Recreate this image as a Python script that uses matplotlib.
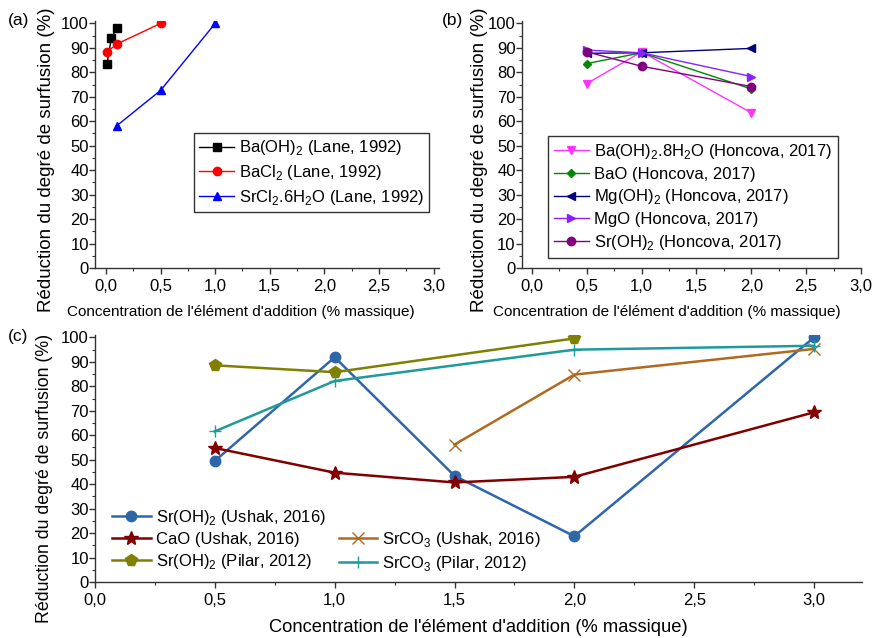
import matplotlib
matplotlib.use("Agg")
import matplotlib.pyplot as plt
from matplotlib.lines import Line2D
from matplotlib.ticker import MultipleLocator, FuncFormatter

plt.rcParams['font.family'] = ['Liberation Sans', 'DejaVu Sans']
plt.rcParams['mathtext.fontset'] = 'custom'
plt.rcParams['mathtext.rm'] = 'Liberation Sans'

# --- (a) Lane, 1992
a_baoh2_x = [0.01, 0.05, 0.1]
a_baoh2_y = [83.5, 94.0, 98.3]
a_bacl2_x = [0.01, 0.1, 0.5]
a_bacl2_y = [88.3, 91.6, 100.0]
a_srcl2_x = [0.1, 0.5, 1.0]
a_srcl2_y = [58.2, 72.6, 100.0]

# --- (b) Honcova, 2017
b_x = [0.5, 1.0, 2.0]
b_baoh2_8h2o = [75.4, 88.4, 63.5]
b_bao = [83.6, 88.0, 73.2]
b_mgoh2 = [87.8, 88.0, 89.8]
b_mgo = [89.1, 88.0, 78.3]
b_sroh2 = [88.4, 82.5, 74.2]

# --- (c) Ushak 2016 / Pilar 2012
c_sroh2_ushak_x = [0.5, 1.0, 1.5, 2.0, 3.0]
c_sroh2_ushak_y = [49.5, 91.9, 43.4, 18.7, 100.0]
c_cao_ushak_x = [0.5, 1.0, 1.5, 2.0, 3.0]
c_cao_ushak_y = [54.8, 44.7, 40.7, 43.0, 69.4]
c_srco3_ushak_x = [1.5, 2.0, 3.0]
c_srco3_ushak_y = [56.2, 84.8, 95.3]
c_sroh2_pilar_x = [0.5, 1.0, 2.0]
c_sroh2_pilar_y = [88.6, 85.8, 99.6]
c_srco3_pilar_x = [0.5, 1.0, 2.0, 3.0]
c_srco3_pilar_y = [61.6, 82.2, 95.0, 96.6]

ylabel = "Réduction du degré de surfusion (%)"
xlabel = "Concentration de l'élément d'addition (% massique)"

W, H = 883, 638
fig = plt.figure(figsize=(W / 100, H / 100), dpi=100)


def box(l, t, r, b):
    return [l / W, 1 - b / H, (r - l) / W, (b - t) / H]


comma = FuncFormatter(lambda v, p: ("%.1f" % v).replace(".", ","))


def style(ax, xmin, xmax, ylab_size, xlab_size, ylab_xy, xlab_xy):
    ax.set_xlim(xmin, xmax)
    ax.set_ylim(0, 101)
    for s in ("top", "right"):
        ax.spines[s].set_visible(False)
    for s in ("left", "bottom"):
        ax.spines[s].set_color("#333333")
        ax.spines[s].set_linewidth(1.0)
    ax.xaxis.set_major_locator(MultipleLocator(0.5))
    ax.xaxis.set_minor_locator(MultipleLocator(0.25))
    ax.yaxis.set_major_locator(MultipleLocator(10))
    ax.yaxis.set_minor_locator(MultipleLocator(5))
    ax.xaxis.set_major_formatter(comma)
    ax.tick_params(which="major", direction="out", length=4, width=1,
                   labelsize=12, colors="#333333", labelcolor="black")
    ax.tick_params(axis="x", which="major", pad=4)
    ax.tick_params(axis="y", which="major", pad=0.5)
    ax.tick_params(which="minor", direction="out", length=2, width=0.8,
                   colors="#333333")
    ax.set_ylabel(ylabel, fontsize=ylab_size)
    ax.set_xlabel(xlabel, fontsize=xlab_size)
    ax.yaxis.set_label_coords(*ylab_xy)
    ax.xaxis.set_label_coords(*xlab_xy)


leg_kw = dict(fontsize=12, handlelength=2.1, handletextpad=0.3,
              labelspacing=0.35)

# (a)
ax1 = fig.add_axes(box(95, 21, 439, 268))
style(ax1, -0.1, 3.05, 13.5, 11, (-0.116, 0.44), (0.424, -0.15))
ax1.plot(a_baoh2_x, a_baoh2_y, color="black", marker="s", ms=6, lw=1,
         label=r"Ba(OH)$_2$ (Lane, 1992)")
ax1.plot(a_bacl2_x, a_bacl2_y, color="red", marker="o", ms=6, lw=1,
         label=r"BaCl$_2$ (Lane, 1992)")
ax1.plot(a_srcl2_x, a_srcl2_y, color="blue", marker="^", ms=6, lw=1,
         label=r"SrCl$_2$.6H$_2$O (Lane, 1992)")
leg = ax1.legend(loc="upper left", bbox_to_anchor=(0.288, 0.545),
                 frameon=True, fancybox=False, edgecolor="black",
                 borderpad=0.3, borderaxespad=0, **leg_kw)
leg.get_frame().set_linewidth(1.0)
fig.text(8 / W, 1 - 21 / H, "(a)", fontsize=12.5, va="center")

# (b)
ax2 = fig.add_axes(box(522, 21, 861, 268))
style(ax2, -0.09, 3.0, 13.5, 11, (-0.1, 0.44), (0.428, -0.15))
ax2.plot(b_x, b_baoh2_8h2o, color="#ff33ff", marker="v", ms=6, lw=1,
         label=r"Ba(OH)$_2$.8H$_2$O (Honcova, 2017)")
ax2.plot(b_x, b_bao, color="#008800", marker="D", ms=4.5, lw=1,
         label="BaO (Honcova, 2017)")
ax2.plot(b_x, b_mgoh2, color="#000080", marker="<", ms=6, lw=1,
         label=r"Mg(OH)$_2$ (Honcova, 2017)")
ax2.plot(b_x, b_mgo, color="#8a1fff", marker=">", ms=6, lw=1,
         label="MgO (Honcova, 2017)")
ax2.plot(b_x, b_sroh2, color="#800080", marker="o", ms=6, lw=1,
         label=r"Sr(OH)$_2$ (Honcova, 2017)")
leg = ax2.legend(loc="upper left", bbox_to_anchor=(0.077, 0.535),
                 frameon=True, fancybox=False, edgecolor="black",
                 borderpad=0.35, borderaxespad=0, **leg_kw)
leg.get_frame().set_linewidth(1.0)
fig.text(442 / W, 1 - 21 / H, "(b)", fontsize=12.5, va="center")

# (c)
ax3 = fig.add_axes(box(95, 335, 862, 582))
style(ax3, 0.0, 3.2, 12.8, 13.2, (-0.055, 0.42), (0.5, -0.148))
h1, = ax3.plot(c_sroh2_ushak_x, c_sroh2_ushak_y, color="#2e66aa", marker="o",
               ms=7.5, lw=1.8, label=r"Sr(OH)$_2$ (Ushak, 2016)")
h2, = ax3.plot(c_cao_ushak_x, c_cao_ushak_y, color="#800000", marker="*",
               ms=10, lw=1.8, label="CaO (Ushak, 2016)")
h3, = ax3.plot(c_srco3_ushak_x, c_srco3_ushak_y, color="#b06a20", marker="x",
               ms=9, mew=1.0, lw=1.8, label=r"SrCO$_3$ (Ushak, 2016)")
h4, = ax3.plot(c_sroh2_pilar_x, c_sroh2_pilar_y, color="#808000", marker="p",
               ms=8.5, lw=1.8, label=r"Sr(OH)$_2$ (Pilar, 2012)")
h5, = ax3.plot(c_srco3_pilar_x, c_srco3_pilar_y, color="#1f9a9a", marker="+",
               ms=9, mew=1.0, lw=1.8, label=r"SrCO$_3$ (Pilar, 2012)")
blank = Line2D([], [], color="none")
ax3.legend([h1, h2, h4, blank, h3, h5],
           [h1.get_label(), h2.get_label(), h4.get_label(), "",
            h3.get_label(), h5.get_label()],
           ncol=2, loc="upper left", bbox_to_anchor=(0.005, 0.355),
           frameon=False, columnspacing=0.8, borderaxespad=0.4,
           fontsize=12, handlelength=2.3, handletextpad=0.3,
           labelspacing=0.3)
fig.text(8 / W, 1 - 336 / H, "(c)", fontsize=12.5, va="center")

fig.savefig("out.png", dpi=100)
